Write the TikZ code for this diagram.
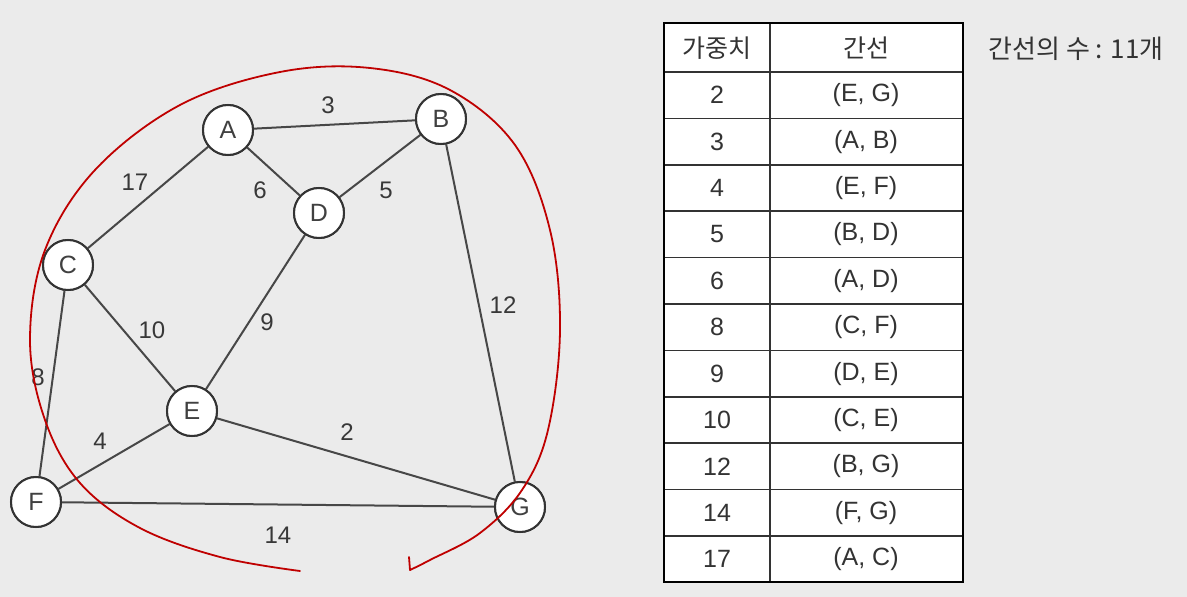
\documentclass[tikz,border=0pt]{standalone}
\usepackage{fontspec}
\setmainfont{Liberation Sans}
\newfontfamily\kr{Noto Sans CJK KR}
\begin{document}
\begin{tikzpicture}[x=1pt,y=-1pt,
  vtx/.style={circle,draw=black!80,line width=2pt,fill=white,minimum size=50pt,inner sep=0pt,font=\fontsize{25}{25}\selectfont,text=black!75},
  edg/.style={draw=black!72,line width=2pt},
  wt/.style={font=\fontsize{24}{24}\selectfont,text=black!78},
  cell/.style={font=\fontsize{25}{25}\selectfont,text=black!80},
  redline/.style={draw=red!75!black,line width=1.8pt,line cap=round}]
\fill[black!8] (0,0) rectangle (1187,597);
\useasboundingbox (0,0) rectangle (1187,597);
% nodes
\node[vtx] (A) at (228,130) {A};
\node[vtx] (B) at (441,119) {B};
\node[vtx] (D) at (319,213) {D};
\node[vtx] (C) at (68,265) {C};
\node[vtx] (E) at (192,411) {E};
\node[vtx] (F) at (36,502) {F};
\node[vtx] (G) at (520,507) {G};
% edges
\draw[edg] (A) -- (B);
\draw[edg] (A) -- (D);
\draw[edg] (B) -- (D);
\draw[edg] (A) -- (C);
\draw[edg] (B) -- (G);
\draw[edg] (C) -- (E);
\draw[edg] (D) -- (E);
\draw[edg] (C) -- (F);
\draw[edg] (E) -- (F);
\draw[edg] (E) -- (G);
\draw[edg] (F) -- (G);
% redraw nodes on top
\node[vtx] at (A) {A};
\node[vtx] at (B) {B};
\node[vtx] at (D) {D};
\node[vtx] at (C) {C};
\node[vtx] at (E) {E};
\node[vtx] at (F) {F};
\node[vtx] at (G) {G};
% weights
\node[wt] (w3) at (328,105) {3};
\node[wt] (w17) at (135,182) {17};
\node[wt] (w6) at (260,190) {6};
\node[wt] (w5) at (386,190) {5};
\node[wt] (w12) at (503,305) {12};
\node[wt] (w10) at (152,330) {10};
\node[wt] (w9) at (267,322) {9};
\node[wt] (w8) at (38,377) {8};
\node[wt] (w4) at (100,441) {4};
\node[wt] (w2) at (347,432) {2};
\node[wt] (w14) at (278,535) {14};
% red curve
\draw[redline] plot[smooth,tension=0.6] coordinates {(300,571) (220,557) (140,528) (80,483) (45,420) (30,340) (45,250) (95,170) (180,105) (280,72) (370,68) (450,90) (515,145) (550,230) (560,330) (548,430) (522,490) (480,533) (430,560) (410,570)};
\draw[redline] (410,570) -- (409,557);
% table
\fill[white] (664,23) rectangle (963,582);
\foreach \i in {0,...,10} {
  \draw[black!80,line width=1.6pt] (664,{72+46.4*\i}) -- (963,{72+46.4*\i});
}
\draw[black!80,line width=1.6pt] (770,23) -- (770,582);
\draw[black,line width=2.2pt] (664,23) rectangle (963,582);
\node[cell,font=\kr\fontsize{25}{25}\selectfont] (h1) at (717,48) {가중치};
\node[cell,font=\kr\fontsize{25}{25}\selectfont] (h2) at (866,48) {간선};
\foreach \w/\e [count=\i from 0] in {2/{(E, G)},3/{(A, B)},4/{(E, F)},5/{(B, D)},6/{(A, D)},8/{(C, F)},9/{(D, E)},10/{(C, E)},12/{(B, G)},14/{(F, G)},17/{(A, C)}} {
  \node[cell] (r\i a) at (717,{95.2+46.4*\i}) {\w};
  \node[cell] (r\i b) at (866,{95.2+46.4*\i}) {\e};
}
\node[font=\kr\fontsize{26}{26}\selectfont,text=black!80] (cnt) at (1076,49) {간선의 수 : 11개};
\end{tikzpicture}
\end{document}
